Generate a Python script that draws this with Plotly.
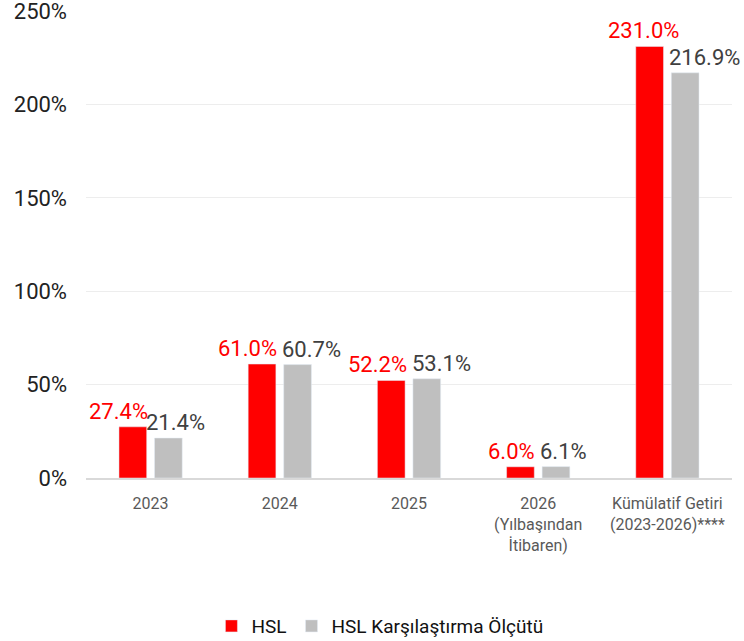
import plotly.graph_objects as go

categories = ["2023", "2024", "2025", "2026<br>(Yılbaşından<br>İtibaren)", "Kümülatif Getiri<br>(2023-2026)****"]
hsl = [27.4, 61.0, 52.2, 6.0, 231.0]
benchmark = [21.4, 60.7, 53.1, 6.1, 216.9]
series_names = ["HSL", "HSL Karşılaştırma Ölçütü"]
y_ticks = [0, 50, 100, 150, 200, 250]

RED = "#FF0000"
GRAY = "#BFBFBF"
LABEL_GRAY = "#404040"
FONT = "Roboto, Arial, sans-serif"

xpos = list(range(len(categories)))

fig = go.Figure()
fig.add_trace(go.Bar(x=xpos, y=hsl, name=series_names[0], marker_color=RED))
fig.add_trace(go.Bar(x=xpos, y=benchmark, name=series_names[1], marker_color=GRAY))

# label offsets (px) relative to category centre: red right-anchored, gray left-anchored
red_shift = [-1, -1, 0, -1, 14]
gray_shift = [-7, 0, 1, 0, 0]
for i in xpos:
    fig.add_annotation(x=i, y=hsl[i], text=f"{hsl[i]:.1f}%", showarrow=False,
                       xanchor="right", yanchor="bottom", xshift=red_shift[i], yshift=1,
                       font=dict(family=FONT, size=22, color=RED))
    fig.add_annotation(x=i, y=benchmark[i], text=f"{benchmark[i]:.1f}%", showarrow=False,
                       xanchor="left", yanchor="bottom", xshift=gray_shift[i], yshift=1,
                       font=dict(family=FONT, size=22, color=LABEL_GRAY))

fig.update_layout(
    width=744, height=641,
    margin=dict(l=86, r=12, t=11, b=163, autoexpand=False),
    paper_bgcolor="white", plot_bgcolor="white",
    barmode="group", bargap=0.45, bargroupgap=0.22,
    font=dict(family=FONT),
    showlegend=True,
    legend=dict(orientation="h", x=0.455, xanchor="center", y=-0.317, yanchor="middle",
                font=dict(family=FONT, size=19, color="#111111"), itemwidth=30,
                traceorder="normal"),
)
fig.update_xaxes(
    range=[-0.5, len(categories) - 0.5], tickvals=xpos, ticktext=categories,
    showgrid=False, showline=True, linecolor="#D9D9D9", linewidth=2, zeroline=False,
    ticks="", tickfont=dict(family=FONT, size=16, color="#595959"), ticklabelstandoff=10,
    automargin=False,
)
fig.update_yaxes(
    range=[0, 250], tickvals=y_ticks, ticktext=[f"{v}%" for v in y_ticks],
    showgrid=True, gridcolor="#EDEDED", gridwidth=1, zeroline=False,
    showline=False, ticks="", tickfont=dict(family=FONT, size=22, color="#222222"),
    ticklabelstandoff=18, automargin=False, ticklabeloverflow="allow",
)

fig.write_html("out.html", config={"displayModeBar": False},
               post_script="document.body.style.margin='0';")
